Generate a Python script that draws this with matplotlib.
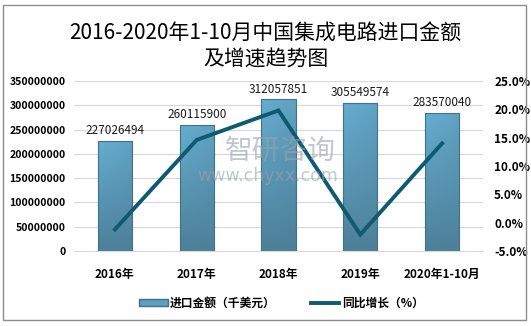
import numpy as np
import matplotlib.pyplot as plt
from matplotlib.patches import Rectangle
from matplotlib.lines import Line2D
from matplotlib.colors import LinearSegmentedColormap
from matplotlib.ticker import FuncFormatter, MultipleLocator

plt.rcParams['font.family'] = ['Noto Sans CJK SC', 'DejaVu Sans']

# 数据
years = ['2016年', '2017年', '2018年', '2019年', '2020年1-10月']
import_value = [227026494, 260115900, 312057851, 305549574, 283570040]
growth = [-1.2, 14.6, 19.8, -2.1, 14.0]

W, H = 531, 326
fig = plt.figure(figsize=(W / 100, H / 100), dpi=100)
fig.patches.append(Rectangle((3 / W, 1 - 320 / H), 523 / W, 315 / H,
                             transform=fig.transFigure, fill=False,
                             edgecolor='#8c8c8c', linewidth=1.0))

ax = fig.add_axes([74 / W, 75 / H, 409 / W, 170 / H])
ax2 = ax.twinx()

x = np.arange(len(years))
bars = ax.bar(x, import_value, width=0.42, color='none', edgecolor='#3f7189',
              linewidth=0.8, zorder=3)

# 柱子渐变填充
grad = np.linspace(0, 1, 64).reshape(-1, 1)
grad = grad * np.linspace(1, 0.75, 16).reshape(1, -1)
cmap = LinearSegmentedColormap.from_list('bar', ['#4d8099', '#66add0'])
for b in bars:
    x0, y0 = b.get_x(), b.get_y()
    w, h = b.get_width(), b.get_height()
    im = ax.imshow(grad, cmap=cmap, extent=[x0, x0 + w, y0, y0 + h],
                   origin='lower', aspect='auto', zorder=2)
    im.set_clip_path(b)

for xi, v in zip(x, import_value):
    ax.text(xi, v + 8e6, str(v), ha='center', va='bottom', fontsize=8.5,
            color='#1a1a1a')

ax.set_xlim(-0.5, len(years) - 0.5)
ax.set_ylim(0, 350000000)
ax.yaxis.set_major_locator(MultipleLocator(50000000))
ax.yaxis.set_major_formatter(FuncFormatter(lambda v, p: f'{int(v)}'))
ax.grid(axis='y', color='#d9d9d9', linewidth=0.9, zorder=0)
ax.set_axisbelow(True)
ax.set_xticks(x)
ax.set_xticklabels(years, fontsize=8.5, fontweight='bold')
ax.tick_params(axis='x', length=0, pad=12)
ax.tick_params(axis='y', length=0, labelsize=7.6, pad=6)
for lab in ax.get_yticklabels():
    lab.set_fontweight('bold')

ax2.plot(x, growth, color='#0e5a72', linewidth=2.8, solid_joinstyle='miter',
         zorder=5)
ax2.set_ylim(-5, 25)
ax2.yaxis.set_major_locator(MultipleLocator(5))
ax2.yaxis.set_major_formatter(FuncFormatter(lambda v, p: f'{v:.1f}%'))
ax2.tick_params(axis='y', length=0, labelsize=8.5, pad=8)
for lab in ax2.get_yticklabels():
    lab.set_fontweight('bold')

for a in (ax, ax2):
    for s in a.spines.values():
        s.set_visible(False)
ax.spines['bottom'].set_visible(True)
ax.spines['bottom'].set_color('#d9d9d9')

# 水印
fig.text(225 / W, 1 - 151 / H, '智研咨询', fontsize=20, color='#9aa3aa',
         alpha=0.6, ha='left', va='center')
fig.text(197 / W, 1 - 176 / H, 'www.chyxx.com', fontsize=12.5,
         color='#9aa3aa', alpha=0.6, ha='left', va='center',
         family='DejaVu Sans')

fig.text(0.5, 1 - 46 / H, '2016-2020年1-10月中国集成电路进口金额\n及增速趋势图',
         ha='center', va='center', fontsize=15, linespacing=1.25)

handles = [Rectangle((0, 0), 1, 1, facecolor='#5c9fc0', edgecolor='#3f7189'),
           Line2D([0], [0], color='#0e5a72', linewidth=2.8)]
leg = fig.legend(handles, ['进口金额（千美元）', '同比增长（%）'],
                 loc='center', bbox_to_anchor=(0.53, 1 - 303 / H), ncol=2,
                 frameon=False, fontsize=8.5, handlelength=2.4,
                 handleheight=0.5, columnspacing=3.0, handletextpad=0.2)
for t in leg.get_texts():
    t.set_fontweight('bold')

fig.savefig('out.png', dpi=100)
